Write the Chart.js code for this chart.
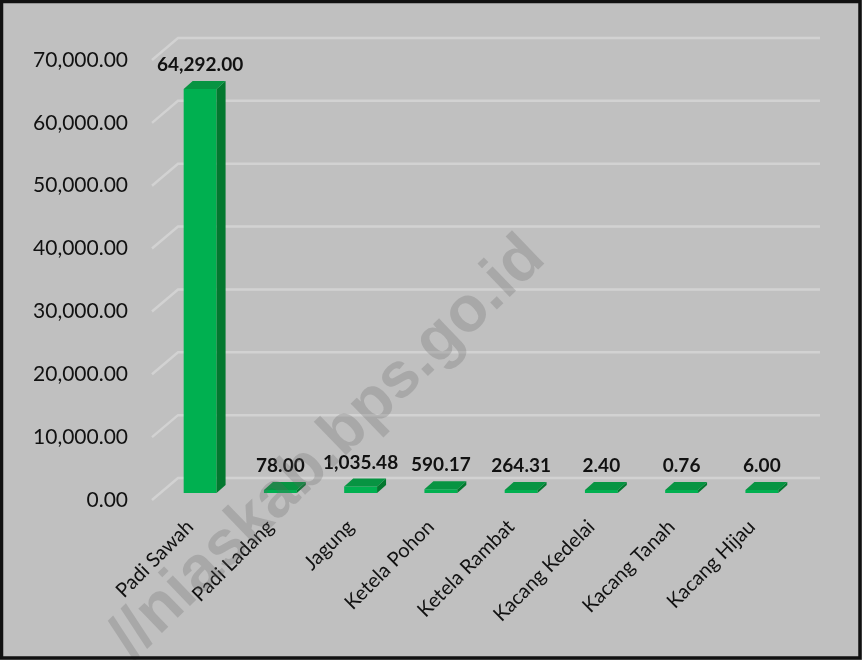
<!DOCTYPE html>
<html><head><meta charset="utf-8">
<script src="https://cdn.jsdelivr.net/npm/chart.js@4.4.1/dist/chart.umd.min.js"></script>
<style>html,body{margin:0;padding:0;background:#c0c0c0;}#wrap{width:862px;height:660px;}</style>
</head><body><div id="wrap"><canvas id="c" width="862" height="660"></canvas></div>
<script>
const categories = ['Padi Sawah','Padi Ladang','Jagung','Ketela Pohon','Ketela Rambat','Kacang Kedelai','Kacang Tanah','Kacang Hijau'];
const values = [64292.00, 78.00, 1035.48, 590.17, 264.31, 2.40, 0.76, 6.00];
const yTickValues = [0, 10000, 20000, 30000, 40000, 50000, 60000, 70000];
const watermark = '//niaskab.bps.go.id';

const fmt = v => Number(v).toLocaleString('en-US', {minimumFractionDigits: 2, maximumFractionDigits: 2});

const DX = 9, DY = 8;          // bar depth
const GX = 26, GY = 22;        // gridline depth (front -> back)

const bgPlugin = {
  id: 'bg',
  beforeDraw(chart) {
    const ctx = chart.ctx;
    ctx.save();
    ctx.fillStyle = '#c0c0c0';
    ctx.fillRect(0, 0, chart.width, chart.height);
    ctx.restore();
  },
  beforeDatasetsDraw(chart) {
    const ctx = chart.ctx, y = chart.scales.y, a = chart.chartArea;
    ctx.save();
    ctx.strokeStyle = '#d2d2d2';
    ctx.lineWidth = 2.5;
    y.ticks.forEach(t => {
      const p = y.getPixelForValue(t.value);
      const backY = p - 15;
      ctx.beginPath();
      ctx.moveTo(a.left - 8, backY + GY);
      ctx.lineTo(a.left - 8 + GX, backY);
      ctx.lineTo(a.right + 18, backY);
      ctx.stroke();
    });
    ctx.restore();
  },
  afterDatasetsDraw(chart) {
    const ctx = chart.ctx;
    const meta = chart.getDatasetMeta(0);
    ctx.save();
    meta.data.forEach((bar, i) => {
      const w = bar.width, l = bar.x - w / 2, r = bar.x + w / 2, top = bar.y, base = bar.base;
      ctx.fillStyle = '#03782f';
      ctx.beginPath();
      ctx.moveTo(r, top); ctx.lineTo(r + DX, top - DY); ctx.lineTo(r + DX, base - DY); ctx.lineTo(r, base);
      ctx.closePath(); ctx.fill();
      ctx.fillStyle = '#079442';
      ctx.beginPath();
      ctx.moveTo(l, top); ctx.lineTo(l + DX, top - DY); ctx.lineTo(r + DX, top - DY); ctx.lineTo(r, top);
      ctx.closePath(); ctx.fill();
      ctx.fillStyle = '#111';
      ctx.font = 'bold 19px Lato';
      ctx.textAlign = 'center';
      ctx.textBaseline = 'middle';
      ctx.fillText(fmt(values[i]), bar.x, top - 24);
    });
    ctx.restore();
  },
  afterDraw(chart) {
    const ctx = chart.ctx;
    ctx.save();
    ctx.translate(328, 448);
    ctx.rotate(-44 * Math.PI / 180);
    ctx.font = 'bold 64px "Liberation Sans"';
    ctx.fillStyle = 'rgba(100,100,100,0.26)';
    ctx.textAlign = 'center';
    ctx.textBaseline = 'middle';
    ctx.fillText(watermark, 0, 0);
    ctx.restore();
    ctx.save();
    ctx.strokeStyle = '#111';
    ctx.lineWidth = 3.5;
    ctx.strokeRect(1.5, 1.5, chart.width - 3.5, chart.height - 3.5);
    ctx.restore();
  }
};

new Chart(document.getElementById('c'), {
  type: 'bar',
  data: {
    labels: categories,
    datasets: [{
      data: values,
      backgroundColor: '#00b050',
      borderWidth: 0,
      barPercentage: 0.41,
      categoryPercentage: 1,
      minBarLength: 3
    }]
  },
  options: {
    responsive: false,
    animation: false,
    layout: { padding: { left: 0, top: 53, right: 60, bottom: 0 } },
    plugins: { legend: { display: false }, tooltip: { enabled: false } },
    scales: {
      x: {
        grid: { display: false, drawTicks: false },
        border: { display: false },
        ticks: { color: '#111', font: { family: 'Lato', size: 20 }, minRotation: 45, maxRotation: 45, padding: 22, labelOffset: -10, autoSkip: false },
        afterFit: s => { s.height = 167; }
      },
      y: {
        min: 0, max: 70000,
        grid: { display: false, drawTicks: false },
        border: { display: false },
        afterBuildTicks: s => { s.ticks = yTickValues.map(v => ({ value: v })); },
        ticks: { color: '#111', font: { family: 'Lato', size: 21 }, padding: 32, labelOffset: 7, callback: v => fmt(v) },
        afterFit: s => { s.width = 160; }
      }
    }
  },
  plugins: [bgPlugin]
});
</script></body></html>
